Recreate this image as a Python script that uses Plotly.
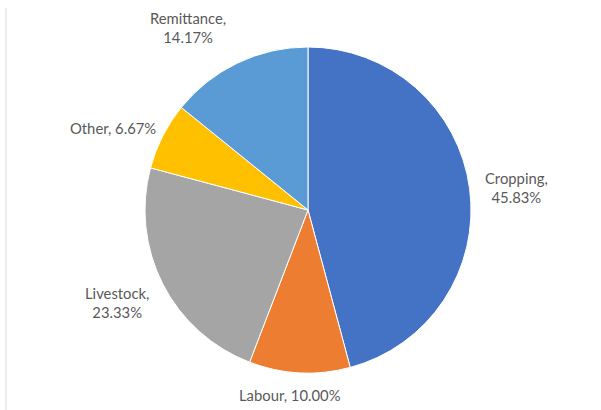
import plotly.graph_objects as go

# Share of household income by source (%)
sources = ["Cropping", "Labour", "Livestock", "Other", "Remittance"]
shares = [45.83, 10.00, 23.33, 6.67, 14.17]
colors = ["#4472C4", "#ED7D31", "#A5A5A5", "#FFC000", "#5B9BD5"]

W, H = 601, 410
cx, cy, r = 308, 210, 163  # pie centre and radius in pixels

# label centres in pixels (x, y from top)
label_pos = [(516, 188), (290, 395), (117, 302), (113, 128), (188, 27)]
label_multiline = [True, False, True, False, True]

fig = go.Figure(go.Pie(
    labels=sources,
    values=shares,
    sort=False,
    direction="clockwise",
    rotation=0,
    marker=dict(colors=colors, line=dict(color="white", width=1)),
    textinfo="none",
    hoverinfo="label+percent",
    showlegend=False,
    domain=dict(x=[(cx - r) / W, (cx + r) / W], y=[1 - (cy + r) / H, 1 - (cy - r) / H]),
))

for name, val, (px, py), ml in zip(sources, shares, label_pos, label_multiline):
    sep = ",<br>" if ml else ", "
    fig.add_annotation(
        x=px / W, y=1 - py / H, xref="paper", yref="paper",
        text=f"{name}{sep}{val:.2f}%", showarrow=False,
        font=dict(family="Lato", size=14.8, color="#595959"),
        xanchor="center", yanchor="middle", align="center",
    )

# thin frame edge along the left side
fig.add_shape(type="line", xref="paper", yref="paper",
              x0=6 / W, x1=6 / W, y0=0, y1=1 - 8 / H,
              line=dict(color="#D9D9D9", width=1))

fig.update_layout(
    width=W, height=H,
    margin=dict(l=0, r=0, t=0, b=0),
    paper_bgcolor="white", plot_bgcolor="white",
)

fig.write_html("out.html")
